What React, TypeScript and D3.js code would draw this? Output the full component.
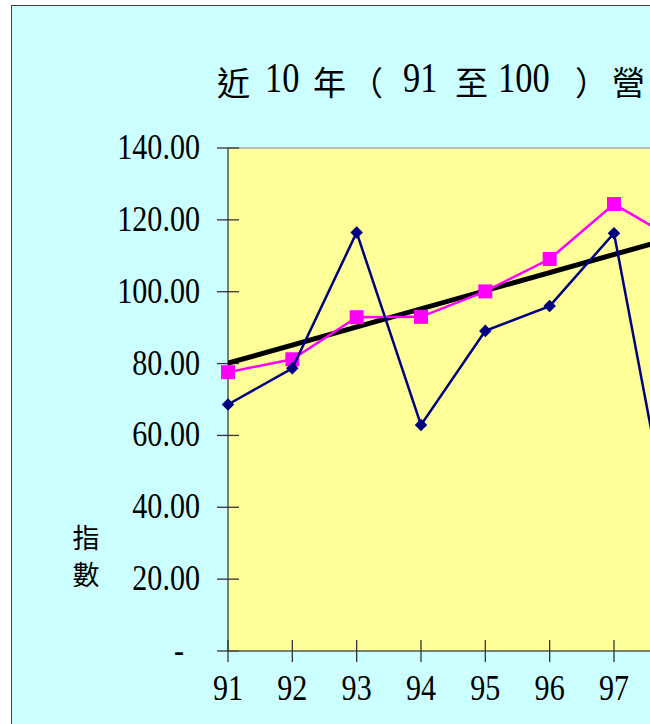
import React from "react";
import * as d3 from "d3";

const years = [91, 92, 93, 94, 95, 96, 97, 98];
const seriesNavy = [68.6, 78.7, 116.5, 62.9, 89.1, 96.0, 116.3, 21.7];
const seriesPink = [77.6, 81.2, 92.9, 93.0, 100.1, 109.1, 124.4, 114.0];
const trendYears = [91, 100];
const trendValues = [80.1, 125.5];
const yTicks = [0, 20, 40, 60, 80, 100, 120, 140];
const xTicks = [91, 92, 93, 94, 95, 96, 97, 98, 99, 100];
const titleTokens = ["近", "10", "年", "（", "91", "至", "100", "）", "營"];
const titleX = [217, 265, 313, 350, 403, 455, 498, 575, 612];
const yLabel = ["指", "數"];

const W = 650;
const H = 724;
const plotLeft = 228;
const plotTop = 148;
const plotBottom = 651;

const serif = "'Liberation Serif', 'Times New Roman', serif";
const cjk = "'Noto Sans CJK TC', 'Noto Sans CJK SC', sans-serif";

export default function App() {
  const x = d3.scaleLinear().domain([91, 100]).range([plotLeft, plotLeft + 9 * 64.33]);
  const y = d3.scaleLinear().domain([0, 140]).range([plotBottom, plotTop]);

  const line = d3
    .line<number>()
    .x((_, i) => x(years[i]))
    .y((d) => y(d));

  const trendLine = d3
    .line<number>()
    .x((_, i) => x(trendYears[i]))
    .y((d) => y(d));

  const fmt = (v: number) => (v === 0 ? "-" : d3.format(".2f")(v));
  const diamond = d3.symbol().type(d3.symbolDiamond2).size(100)();
  const visibleTicks = xTicks.filter((t) => x(t) + 16 < W);

  return (
    <svg
      width={W}
      height={H}
      style={{ position: "absolute", left: 0, top: 0, background: "#fff" }}
    >
      <defs>
        <clipPath id="plotClip">
          <rect x={plotLeft} y={plotTop} width={W} height={plotBottom - plotTop} />
        </clipPath>
      </defs>
      {/* outer chart area */}
      <rect x={11.5} y={5.5} width={W + 20} height={H + 20} fill="#CCFFFF" stroke="#404040" strokeWidth={1} />

      {/* title */}
      {titleTokens.map((t, i) =>
        /\d/.test(t) ? (
          <text
            key={i}
            transform={`translate(${titleX[i]},92) scale(0.8,1)`}
            fontFamily={serif}
            fontSize={43}
            fill="#000"
          >
            {t}
          </text>
        ) : (
          <text key={i} x={titleX[i]} y={95} fontFamily={cjk} fontSize={33} fill="#000">
            {t}
          </text>
        )
      )}

      {/* plot area */}
      <rect x={plotLeft} y={plotTop} width={W} height={plotBottom - plotTop} fill="#FFFF99" />
      <line x1={plotLeft} x2={W} y1={plotTop} y2={plotTop} stroke="#BDBDBD" strokeWidth={2} />

      {/* y axis */}
      <line x1={plotLeft} x2={plotLeft} y1={plotTop} y2={plotBottom} stroke="#555" strokeWidth={1.5} />
      {yTicks.map((t) => (
        <g key={t}>
          <line x1={plotLeft - 11} x2={plotLeft + 11} y1={y(t)} y2={y(t)} stroke="#333" strokeWidth={1.3} />
          <text
            transform={`translate(${t === 0 ? 184 : 200},${y(t) + 11}) scale(0.86,1)`}
            textAnchor="end"
            fontFamily={serif}
            fontSize={35}
            fill="#000"
          >
            {fmt(t)}
          </text>
        </g>
      ))}

      {/* x axis */}
      <line x1={plotLeft} x2={W} y1={plotBottom} y2={plotBottom} stroke="#555" strokeWidth={1.5} />
      {xTicks.map((t) => (
        <line key={t} x1={x(t)} x2={x(t)} y1={plotBottom - 11} y2={plotBottom + 11} stroke="#333" strokeWidth={1.3} />
      ))}
      {visibleTicks.map((t) => (
        <text
          key={t}
          transform={`translate(${x(t)},700) scale(0.86,1)`}
          textAnchor="middle"
          fontFamily={serif}
          fontSize={35}
          fill="#000"
        >
          {t}
        </text>
      ))}

      {/* series */}
      <g clipPath="url(#plotClip)">
        <path d={trendLine(trendValues) || ""} fill="none" stroke="#000" strokeWidth={5} />
        <path d={line(seriesPink) || ""} fill="none" stroke="#FF00FF" strokeWidth={2.5} />
      </g>
      {seriesPink.map((v, i) => (
        <rect key={i} x={x(years[i]) - 7} y={y(v) - 7} width={14} height={14} fill="#FF00FF" />
      ))}
      <path d={line(seriesNavy) || ""} fill="none" stroke="#000080" strokeWidth={2.5} />
      {seriesNavy.map((v, i) => (
        <path key={i} d={diamond || ""} transform={`translate(${x(years[i])},${y(v)})`} fill="#000080" />
      ))}

      {/* y axis title */}
      {yLabel.map((c, i) => (
        <text key={c} x={86} y={548 + i * 37} textAnchor="middle" fontFamily={cjk} fontSize={27} fill="#000">
          {c}
        </text>
      ))}
    </svg>
  );
}
